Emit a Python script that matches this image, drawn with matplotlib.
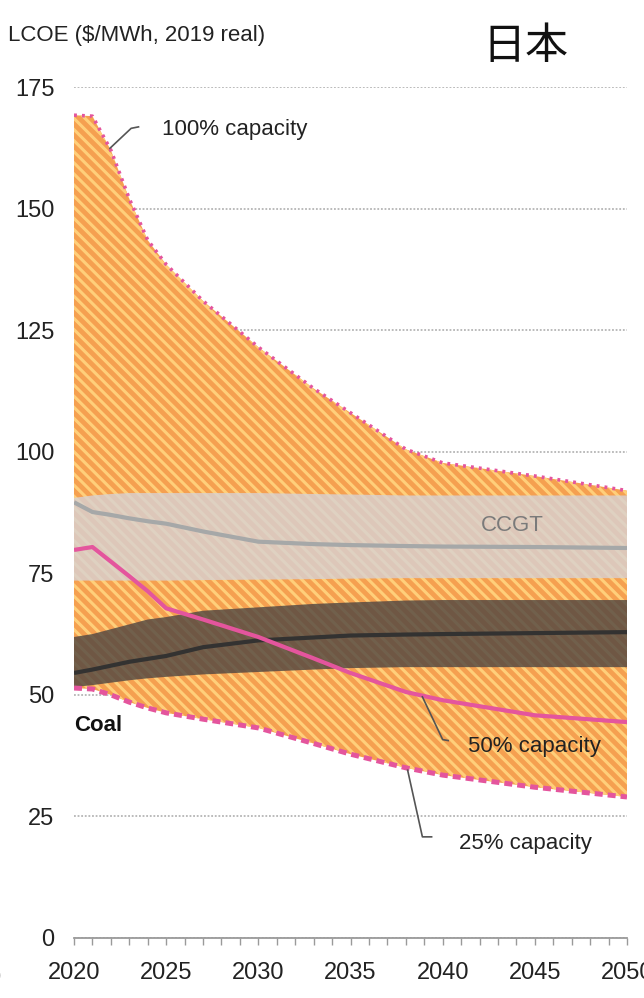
import matplotlib
matplotlib.use('Agg')
import matplotlib.pyplot as plt
import matplotlib.font_manager as fm
from matplotlib.ticker import MultipleLocator

# LCOE ranges for Japan, $/MWh (2019 real)
years = [2020, 2021, 2022, 2023, 2024, 2025, 2027, 2030, 2033, 2035, 2038, 2040, 2045, 2050]
cap_100 = [169.2, 169.0, 162.0, 152.0, 143.5, 138.5, 131.0, 121.5, 113.0, 108.0, 100.5, 97.7, 95.0, 92.0]
cap_50 = [79.8, 80.4, 77.4, 74.4, 71.3, 67.8, 65.5, 61.9, 57.5, 54.5, 50.6, 48.9, 45.8, 44.4]
cap_25 = [51.4, 51.2, 50.0, 48.5, 47.3, 46.3, 45.0, 43.2, 40.0, 37.8, 35.0, 33.5, 31.0, 29.0]
ccgt_high = [90.5, 91.0, 91.3, 91.5, 91.5, 91.5, 91.5, 91.5, 91.3, 91.2, 91.0, 91.0, 91.0, 91.0]
ccgt_mid = [89.6, 87.6, 87.0, 86.3, 85.7, 85.2, 83.6, 81.5, 81.0, 80.8, 80.6, 80.5, 80.4, 80.2]
ccgt_low = [73.5, 73.5, 73.5, 73.5, 73.5, 73.5, 73.6, 73.7, 73.8, 73.9, 74.0, 74.0, 74.0, 74.0]
coal_high = [61.9, 62.5, 63.5, 64.5, 65.5, 66.0, 67.3, 68.0, 68.7, 69.0, 69.4, 69.5, 69.5, 69.5]
coal_mid = [54.5, 55.2, 56.0, 56.8, 57.4, 58.0, 59.8, 61.2, 61.8, 62.2, 62.4, 62.5, 62.7, 62.9]
coal_low = [51.6, 52.0, 52.5, 53.0, 53.4, 53.7, 54.2, 54.7, 55.2, 55.5, 55.7, 55.7, 55.7, 55.7]

yticks = [0, 25, 50, 75, 100, 125, 150, 175]
xticks = [2020, 2025, 2030, 2035, 2040, 2045, 2050]

# narrow sans if present, otherwise the regular one
names = {f.name for f in fm.fontManager.ttflist}
if 'Liberation Sans Narrow' in names:
    base_font, fs = 'Liberation Sans Narrow', 17
else:
    base_font, fs = 'Liberation Sans', 15
plt.rcParams['font.family'] = [base_font, 'DejaVu Sans']
plt.rcParams['hatch.linewidth'] = 2.2

pink = '#E4559D'
txt = '#222222'

fig = plt.figure(figsize=(6.44, 9.98), dpi=100)
ax = fig.add_axes([74/644, 60/998, 553/644, 851/998])

# hatched range between 25% and 100% capacity factor
ax.fill_between(years, cap_25, cap_100, facecolor='#F5A050', edgecolor='#FFCF7A',
                hatch='\\\\\\', linewidth=0, zorder=2)
# gas and coal ranges laid over it, stripes still showing through
ax.fill_between(years, ccgt_low, ccgt_high, facecolor='#D7D2D4', alpha=0.8,
                linewidth=0, zorder=3)
ax.fill_between(years, coal_low, coal_high, facecolor='#4E4541', alpha=0.8,
                linewidth=0, zorder=3)

ax.plot(years, ccgt_mid, color='#A6A8A8', lw=3, zorder=4, solid_capstyle='butt')
ax.plot(years, coal_mid, color='#333231', lw=3, zorder=4, solid_capstyle='butt')
ax.plot(years, cap_50, color=pink, lw=3, zorder=5, solid_capstyle='butt')
ax.plot(years, cap_100, color=pink, lw=2.6, ls=(0, (0.8, 1.4)), zorder=5)
ax.plot(years, cap_25, color=pink, lw=3.6, ls=(0, (1.6, 1.0)), zorder=5)

ax.set_xlim(2020, 2050)
ax.set_ylim(0, 175)
ax.set_yticks(yticks)
ax.set_xticks(xticks)
ax.xaxis.set_minor_locator(MultipleLocator(1))
ax.yaxis.grid(True, linestyle=(0, (1, 1)), color='#B5B5B5', lw=1.3)
ax.set_axisbelow(True)
for s in ['top', 'right', 'left']:
    ax.spines[s].set_visible(False)
ax.spines['bottom'].set_color('#9A9A9A')
ax.spines['bottom'].set_linewidth(1.3)
ax.tick_params(axis='y', length=0, pad=14, labelsize=fs + 2, labelcolor=txt)
ax.tick_params(axis='x', which='both', direction='out', length=5, color='#9A9A9A',
               width=1, labelsize=fs + 2, labelcolor=txt, pad=12)

# series labels and leaders
ax.plot([2021.95, 2023.1, 2023.5], [162.4, 166.5, 166.8], color='#555555', lw=1.2, zorder=6)
ax.text(2024.8, 166.3, '100% capacity', fontsize=fs + 1, color=txt, va='center', ha='left')
ax.text(2043.8, 84.8, 'CCGT', fontsize=fs + 1, color='#7A7A7A', va='center', ha='center', zorder=6)
ax.text(2020.0, 43.8, 'Coal', fontsize=fs + 1, color='#111111', fontweight='bold',
        va='center', ha='left', zorder=6)
ax.plot([2038.9, 2040.0, 2040.3], [49.6, 40.8, 40.6], color='#555555', lw=1.2, zorder=6)
ax.text(2041.4, 39.3, '50% capacity', fontsize=fs + 1, color=txt, va='center', ha='left', zorder=6)
ax.plot([2038.1, 2038.9, 2039.4], [34.5, 20.8, 20.8], color='#555555', lw=1.2, zorder=6)
ax.text(2040.9, 19.5, '25% capacity', fontsize=fs + 1, color=txt, va='center', ha='left', zorder=6)

fig.text(8/644, 1 - 35/998, 'LCOE ($/MWh, 2019 real)', fontsize=fs + 1, color=txt,
         va='center', ha='left')
fig.text(525/644, 1 - 47/998, '日本', fontsize=31, color='#111111', va='center', ha='center',
         family=['Noto Sans CJK JP', 'DejaVu Sans'])
# edge of the neighbouring panel's last year label
fig.text(-6/644, 1 - 978/998, '0', fontsize=fs + 2, color=txt, va='center', ha='center')

fig.savefig('out.png', dpi=100)
